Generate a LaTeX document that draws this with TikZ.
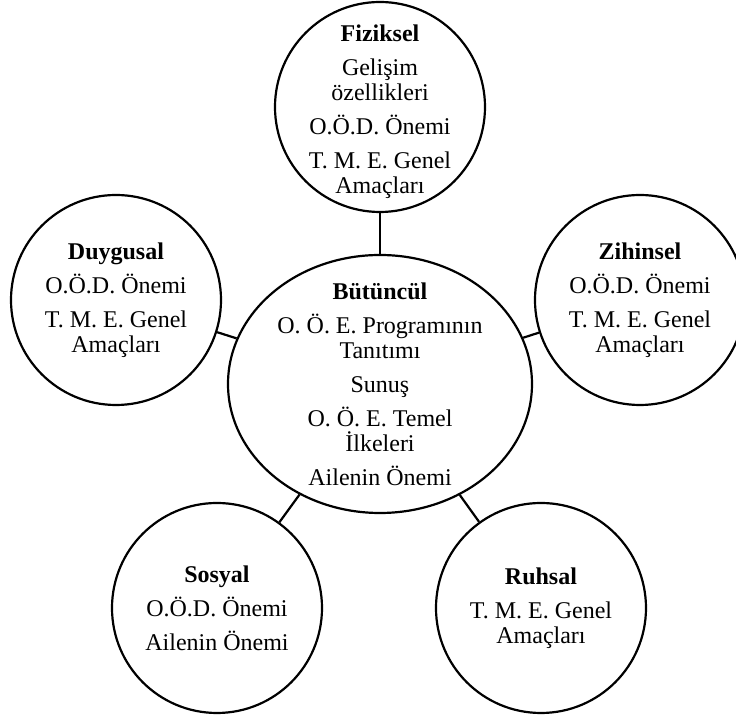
\documentclass[tikz,border=0pt]{standalone}
\usepackage{fontspec}
\setmainfont{Liberation Serif}
\usetikzlibrary{shapes.geometric}

\begin{document}
\begin{tikzpicture}[x=0.5pt,y=-0.5pt,
    blob/.style={draw,circle,minimum size=105pt,inner sep=0pt,line width=1.1pt},
    hub/.style={draw,ellipse,minimum width=152pt,minimum height=129pt,inner sep=0pt,line width=1.1pt},
    txt/.style={align=center,inner sep=0pt,font=\fontsize{12}{12.5}\selectfont},
    link/.style={line width=1.1pt}]

        \useasboundingbox (0,0) rectangle (736,716);

        \node[hub] (cen) at (380,384) {};
        \node[blob] (fiz) at (380,107) {};
        \node[blob] (duy) at (116,300) {};
        \node[blob] (zih) at (640,300) {};
        \node[blob] (sos) at (217,608) {};
        \node[blob] (ruh) at (541,608) {};

        \node[txt] (cen-t) at (cen) {\textbf{Bütüncül}\\[4.5pt] O. Ö. E. Programının\\ Tanıtımı\\[4.5pt] Sunuş\\[4.5pt] O. Ö. E. Temel\\ İlkeleri\\[4.5pt] Ailenin Önemi};
        \node[txt] (fiz-t) at (380,112) {\textbf{Fiziksel}\\[4.5pt] Gelişim\\ özellikleri\\[4.5pt] O.Ö.D. Önemi\\[4.5pt] T. M. E. Genel\\ Amaçları};
        \node[txt] (duy-t) at (duy) {\textbf{Duygusal}\\[4.5pt] O.Ö.D. Önemi\\[4.5pt] T. M. E. Genel\\ Amaçları};
        \node[txt] (zih-t) at (zih) {\textbf{Zihinsel}\\[4.5pt] O.Ö.D. Önemi\\[4.5pt] T. M. E. Genel\\ Amaçları};
        \node[txt] (sos-t) at (sos) {\textbf{Sosyal}\\[4.5pt] O.Ö.D. Önemi\\[4.5pt] Ailenin Önemi};
        \node[txt] (ruh-t) at (ruh) {\textbf{Ruhsal}\\[4.5pt] T. M. E. Genel\\ Amaçları};

        \draw[link] (fiz) -- (cen);
        \draw[link] (duy) -- (cen);
        \draw[link] (zih) -- (cen);
        \draw[link] (sos) -- (cen);
        \draw[link] (ruh) -- (cen);
            \end{tikzpicture}
\end{document}
